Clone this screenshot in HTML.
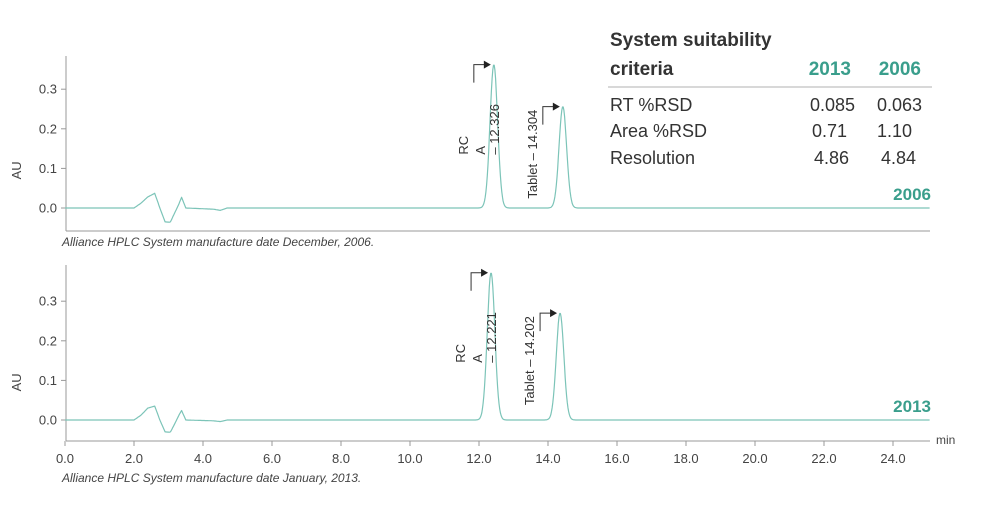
<!DOCTYPE html>
<html><head><meta charset="utf-8"><style>
body{margin:0;background:#fff;width:982px;height:510px;overflow:hidden;font-family:"Liberation Sans",sans-serif}
svg{display:block}
</style></head><body>
<svg id="chart" width="982" height="510" font-family="Liberation Sans, sans-serif">
<g id="top"></g>
<g id="bot"></g>
<g fill="#333">
<text x="610" y="46" font-size="19" font-weight="bold">System suitability</text>
<text x="610" y="75" font-size="19" font-weight="bold">criteria</text>
<text x="851" y="75" font-size="19" font-weight="bold" fill="#3a9e8c" text-anchor="end">2013</text>
<text x="921" y="75" font-size="19" font-weight="bold" fill="#3a9e8c" text-anchor="end">2006</text>
<line x1="608" y1="87" x2="932" y2="87" stroke="#ccc" stroke-width="1.5"/>
<g font-size="18">
<text x="610" y="111">RT %RSD</text>
<text x="855" y="111" text-anchor="end">0.085</text>
<text x="922" y="111" text-anchor="end">0.063</text>
<text x="610" y="137">Area %RSD</text>
<text x="847" y="137" text-anchor="end">0.71</text>
<text x="912" y="137" text-anchor="end">1.10</text>
<text x="610" y="164">Resolution</text>
<text x="849" y="164" text-anchor="end">4.86</text>
<text x="916" y="164" text-anchor="end">4.84</text>
</g></g>
</svg>
<script>
const xTicks=[0,2,4,6,8,10,12,14,16,18,20,22,24];
const yTicks=[0,0.1,0.2,0.3];
const baseT=[0,2.0,2.2,2.4,2.6,2.75,2.9,3.05,3.15,3.3,3.38,3.5,4.3,4.5,4.7,25];
const base2006=[0,0,0.012,0.028,0.037,0.0,-0.035,-0.036,-0.018,0.01,0.027,0,-0.003,-0.006,0,0];
const base2013=[0,0,0.012,0.03,0.035,0.0,-0.03,-0.031,-0.015,0.012,0.024,0,-0.002,-0.004,0,0];
const peakT2006=[12.43,14.43];
const peakH2006=[0.362,0.256];
const peakT2013=[12.35,14.35];
const peakH2013=[0.372,0.27];
const labels2006=["12.326","14.304"];
const labels2013=["12.221","14.202"];
const NS="http://www.w3.org/2000/svg";
const x=t=>65+t*34.5;
function mk(p,tag,attrs){const e=document.createElementNS(NS,tag);for(const k in attrs)e.setAttribute(k,attrs[k]);p.appendChild(e);return e;}
function panel(g,y0,top,bottom,bt,bv,pt,ph,lab,year,ticks,caption){
 const y=v=>y0-v*396;
 let a=mk(g,'line',{x1:66,y1:top,x2:66,y2:bottom,stroke:'#999'});
 
 let b=mk(g,'line',{x1:66,y1:bottom,x2:930,y2:bottom,stroke:'#999'});
 
 yTicks.forEach(v=>{mk(g,'line',{x1:61,y1:y(v),x2:66,y2:y(v),stroke:'#999'});
  const t=mk(g,'text',{x:57,y:y(v)+4.5,'font-size':13,fill:'#444','text-anchor':'end'});t.textContent=v.toFixed(1);
  });
 const au=mk(g,'text',{transform:`translate(21,${y(0.1)+2}) rotate(-90)`,'font-size':13,fill:'#444','text-anchor':'middle'});au.textContent='AU';
 
 let d='';
 for(let t=0;t<=25.06;t+=0.02){let v=0;
  for(let i=0;i<bt.length-1;i++){if(t>=bt[i]&&t<=bt[i+1]){v=bv[i]+(bv[i+1]-bv[i])*(t-bt[i])/(bt[i+1]-bt[i]);break;}}
  for(let i=0;i<pt.length;i++)v+=ph[i]*Math.exp(-Math.pow(t-pt[i],2)/(2*0.11*0.11));
  const px=x(t);if(px>930)break;d+=(d?'L':'M')+px.toFixed(1)+','+y(v).toFixed(1);}
 const tr=mk(g,'path',{d,fill:'none',stroke:'#7cc4b8','stroke-width':1.2,'stroke-linejoin':'round'});
 
 const p1=x(pt[0]),p2=x(pt[1]);const h1=y(ph[0]),h2=y(ph[1]);
 const rot=(tx,ty,s,name)=>{const e=mk(g,'text',{transform:`translate(${tx},${ty}) rotate(-90)`,'font-size':13,fill:'#333'});e.textContent=s;};
 rot(p1-26,h1+90,'RC','label-rc');rot(p1-9,h1+90,'A','label-a');rot(p1+5,h1+90,'– '+lab[0],'label-rc-rt');
 rot(p2-26,h2+92,'Tablet – '+lab[1],'label-tablet');
 [[p1,h1],[p2,h2]].forEach(([px,py],i)=>{
  const ar=mk(g,'path',{d:`M${px-20},${py+18}V${py}H${px-9}`,fill:'none',stroke:'#333','stroke-width':1});
  
  mk(g,'path',{d:`M${px-10},${py-4}L${px-3},${py}L${px-10},${py+4}Z`,fill:'#222'});});
 const yl=mk(g,'text',{x:931,y:y0-8,'font-size':17,'font-weight':'bold',fill:'#3a9e8c','text-anchor':'end'});yl.textContent=year;
 
 if(ticks){xTicks.forEach(v=>{mk(g,'line',{x1:x(v),y1:bottom,x2:x(v),y2:bottom+5,stroke:'#999'});
  const t=mk(g,'text',{x:x(v),y:bottom+22,'font-size':13,fill:'#444','text-anchor':'middle'});t.textContent=v.toFixed(1);
  });
  const m=mk(g,'text',{x:936,y:bottom+3,'font-size':12,fill:'#444'});m.textContent='min';
  }
 const c=mk(g,'text',{x:62,y:ticks?bottom+41:bottom+15,'font-size':12,'font-style':'italic',fill:'#444'});c.textContent=caption;
 
}
panel(document.getElementById('top'),208,56,231,baseT,base2006,peakT2006,peakH2006,labels2006,'2006',false,'Alliance HPLC System manufacture date December, 2006.');
panel(document.getElementById('bot'),420,265,441,baseT,base2013,peakT2013,peakH2013,labels2013,'2013',true,'Alliance HPLC System manufacture date January, 2013.');
</script>
</body></html>
